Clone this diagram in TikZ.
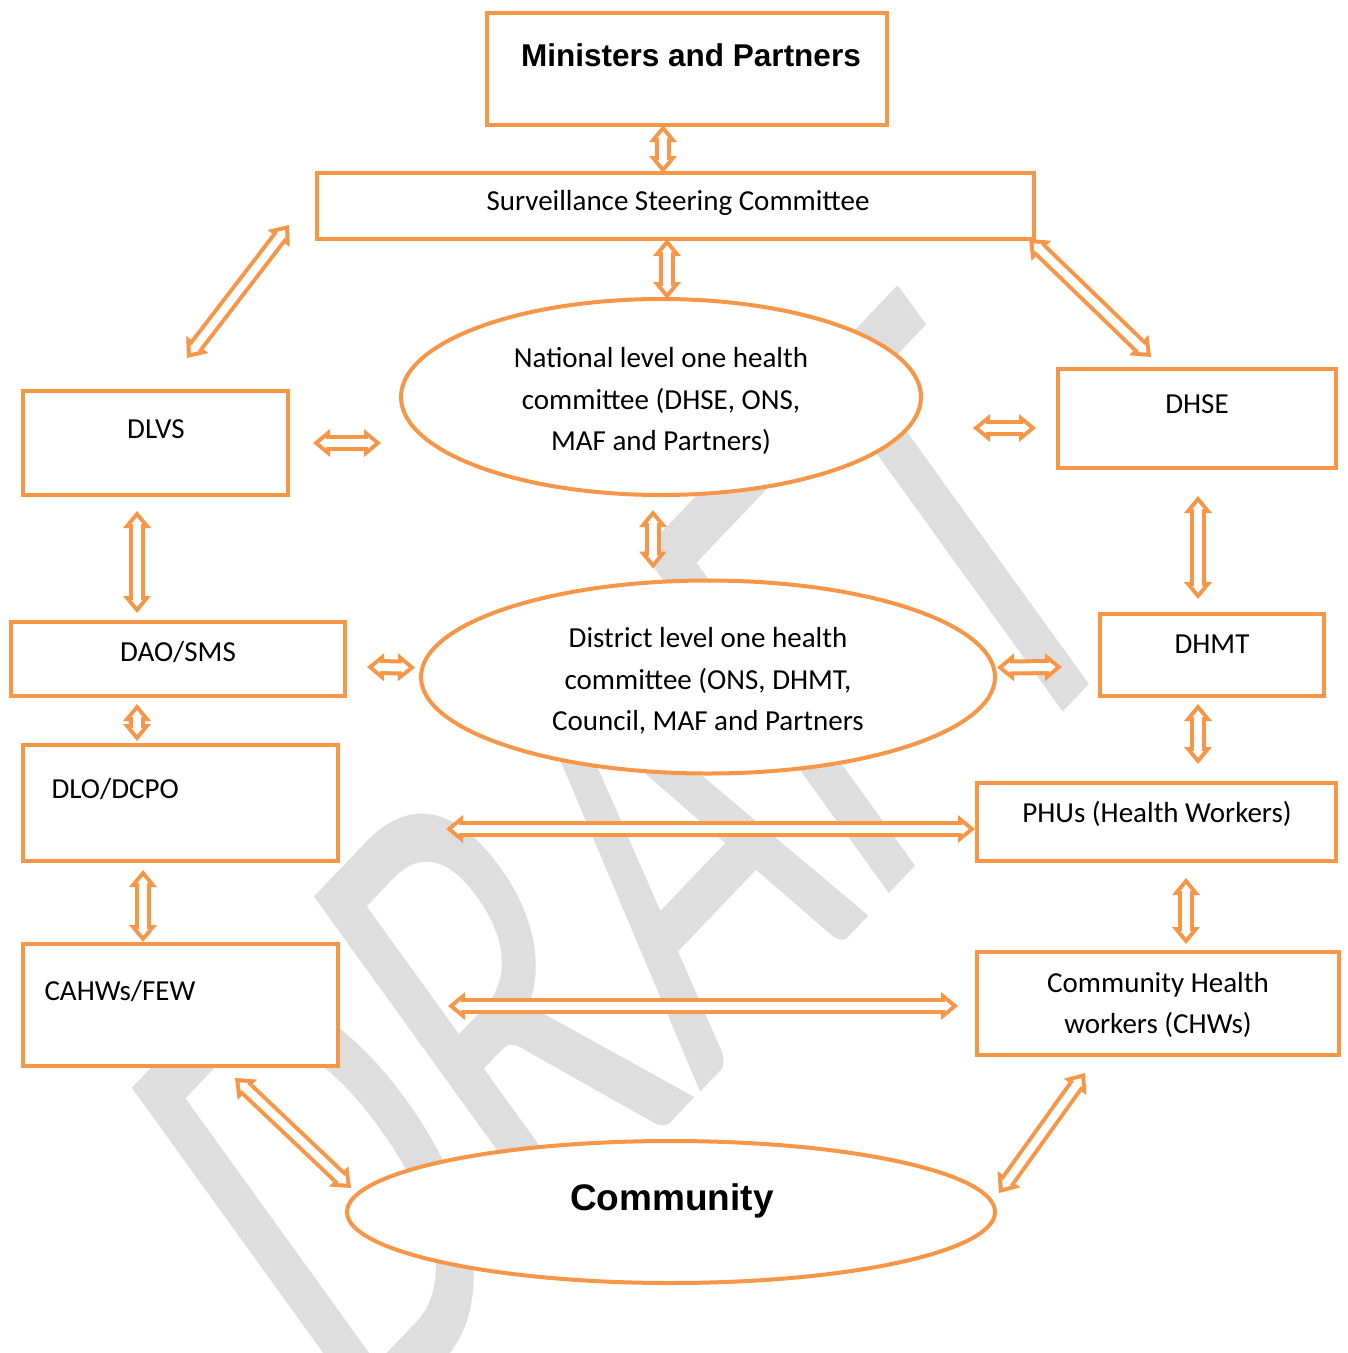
\documentclass[tikz,border=0pt]{standalone}
\usepackage{fontspec}
\setmainfont{Carlito}
\newfontfamily\headfont{Liberation Sans}
\usetikzlibrary{arrows.meta, positioning, shapes.geometric}

\definecolor{accent}{HTML}{F79646}
\definecolor{wmgray}{gray}{0.87}

\newcommand{\bodyfont}{\fontsize{29}{41.5}\selectfont}
\newcommand{\headsize}{\headfont\bfseries\fontsize{31.5}{36}\selectfont}

\tikzset{
  box/.style={rectangle, draw=accent, line width=4pt, fill=white, inner sep=0pt, outer sep=0pt},
  oval/.style={ellipse, draw=accent, line width=4pt, fill=white, inner sep=0pt, outer sep=0pt},
  lbl/.style={align=center, font=\bodyfont},
  linkout/.style={accent, line width=16pt, {Triangle[length=17pt,width=28pt,line width=0pt]}-{Triangle[length=17pt,width=28pt,line width=0pt]}},
  linkin/.style={white, line width=8pt, shorten <=6.3pt, shorten >=6.3pt, {Triangle[length=6.7pt,width=11pt,line width=0pt]}-{Triangle[length=6.7pt,width=11pt,line width=0pt]}},
}

% hollow two-headed arrow between two points
\newcommand{\biarrow}[2]{\draw[linkout] #1 -- #2; \draw[linkin] #1 -- #2;}

\begin{document}
\begin{tikzpicture}[x=1pt, y=-1pt]
        \useasboundingbox (0,0) rectangle (1348,1353);

        % watermark
        \begin{scope}
        \clip (0,0) rectangle (1348,1353);
        \node[text=wmgray, font=\fontsize{470}{470}\selectfont, inner sep=0pt, xscale=0.83, rotate=41, yscale=1.5] (draft) at (630,866) {DRAFT};
        \end{scope}

        % top of the chain
        \node[box, minimum width=400, minimum height=112] (mini) at (687,69) {};
        \node[font=\headsize] (mini-t) at (691,55) {Ministers and Partners};
        \node[box, minimum width=717, minimum height=66] (ssc) at (675.5,206) {};
        \node[lbl] (ssc-t) at (678,203) {Surveillance Steering Committee};

        % national and district committees
        \node[oval, minimum width=520, minimum height=196] (nat) at (661,397) {};
        \node[lbl] (nat-t) at (661,401) {National level one health\\committee (DHSE, ONS,\\MAF and Partners)};
        \node[oval, minimum width=574, minimum height=193] (dist) at (708,677) {};
        \node[lbl] (dist-t) at (708,681) {District level one health\\committee (ONS, DHMT,\\Council, MAF and Partners};

        % left column
        \node[box, minimum width=265, minimum height=104] (dlvs) at (155.5,443) {};
        \node[lbl] (dlvs-t) at (156,429) {DLVS};
        \node[box, minimum width=334, minimum height=74] (dao) at (178,659) {};
        \node[lbl] (dao-t) at (178,652) {DAO/SMS};
        \node[box, minimum width=315, minimum height=116] (dlo) at (180.5,803) {};
        \node[lbl, anchor=west] (dlo-t) at (48,789) {DLO/DCPO};
        \node[box, minimum width=315, minimum height=122] (cahw) at (180.5,1005) {};
        \node[lbl, anchor=west] (cahw-t) at (41,991) {CAHWs/FEW};

        % right column
        \node[box, minimum width=278, minimum height=99] (dhse) at (1197,418.5) {};
        \node[lbl] (dhse-t) at (1197,404) {DHSE};
        \node[box, minimum width=224, minimum height=82] (dhmt) at (1212,655) {};
        \node[lbl] (dhmt-t) at (1212,644) {DHMT};
        \node[box, minimum width=359, minimum height=78] (phu) at (1156.5,822) {};
        \node[lbl] (phu-t) at (1157,814) {PHUs (Health Workers)};
        \node[box, minimum width=362, minimum height=103] (chw) at (1158,1003.5) {};
        \node[lbl] (chw-t) at (1158,1005) {Community Health\\workers (CHWs)};

        % bottom
        \node[oval, minimum width=648, minimum height=142] (comm) at (671,1212) {};
        \node[font=\headfont\bfseries\fontsize{37}{40}\selectfont] (comm-t) at (672,1201) {Community};

        % arrows down the middle
        \biarrow{([xshift=-24]mini.south)}{([xshift=-12.5]ssc.north)}
        \biarrow{([xshift=-8.5]ssc.south)}{([xshift=6]nat.north)}
        \biarrow{([xshift=-8,yshift=-15]nat.south)}{([xshift=-55,yshift=12]dist.north)}

        % arrows to the sides
        \biarrow{([xshift=-28,yshift=14]ssc.south west)}{([xshift=31.5,yshift=33]dlvs.north)}
        \biarrow{([xshift=-5]ssc.south east)}{([xshift=-46,yshift=12]dhse.north)}
        \biarrow{([xshift=25]dlvs.east)}{([xshift=-20,yshift=-46]nat.west)}
        \biarrow{([xshift=52,yshift=-31]nat.east)}{([xshift=-22,yshift=-9.5]dhse.west)}
        \biarrow{([xshift=22,yshift=-8]dao.east)}{([xshift=-6,yshift=9.5]dist.west)}
        \biarrow{([xshift=2,yshift=9.5]dist.east)}{([xshift=-38,yshift=-12]dhmt.west)}
        \biarrow{([xshift=108,yshift=-26]dlo.east)}{([xshift=-2,yshift=-7]phu.west)}
        \biarrow{([xshift=110,yshift=-1]cahw.east)}{([xshift=-19,yshift=-2.5]chw.west)}

        % left column arrows
        \biarrow{([xshift=-18.5,yshift=-16]dlvs.south)}{([xshift=-41,yshift=9]dao.north)}
        \biarrow{([xshift=-41,yshift=-8]dao.south)}{([xshift=-43.5,yshift=4]dlo.north)}
        \biarrow{([xshift=-37.5,yshift=-9]dlo.south)}{([xshift=-37.5,yshift=2]cahw.north)}

        % right column arrows
        \biarrow{([xshift=1,yshift=-28]dhse.south)}{([xshift=-14,yshift=15]dhmt.north)}
        \biarrow{([xshift=-14,yshift=-8]dhmt.south)}{([xshift=41.5,yshift=19]phu.north)}
        \biarrow{([xshift=29.5,yshift=-17]phu.south)}{([xshift=28,yshift=8]chw.north)}

        % to and from the community
        \biarrow{([xshift=-103,yshift=-12]cahw.south east)}{([xshift=4,yshift=24]comm.west)}
        \biarrow{([xshift=4,yshift=19]comm.east)}{([xshift=108,yshift=-18]chw.south west)}
\end{tikzpicture}
\end{document}
